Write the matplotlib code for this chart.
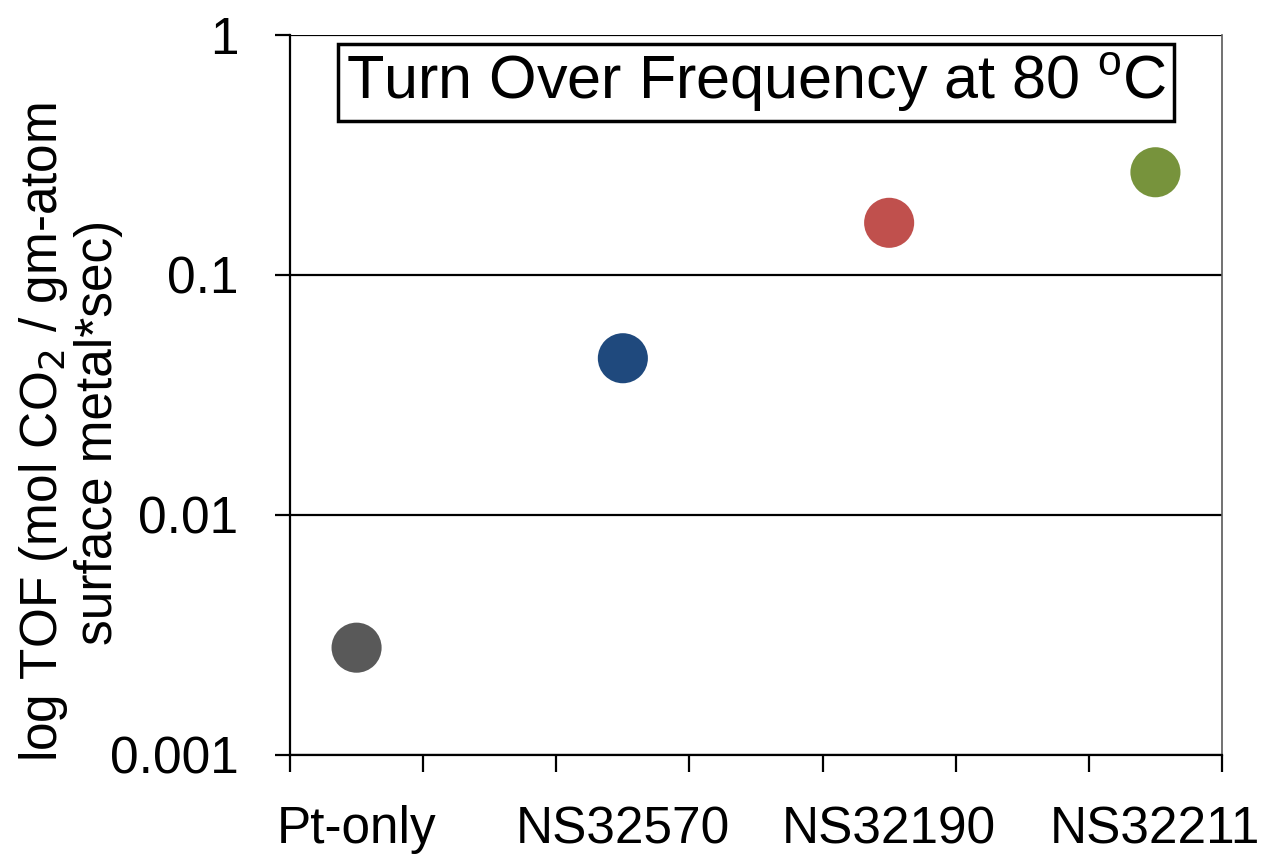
import matplotlib
matplotlib.use("Agg")
import matplotlib.pyplot as plt
from matplotlib.ticker import FixedLocator, NullFormatter, FixedFormatter

plt.rcParams['font.family'] = ['Liberation Sans', 'DejaVu Sans']

# Catalyst samples and their turnover frequencies
catalysts = ["Pt-only", "NS32570", "NS32190", "NS32211"]
tof = [0.0028, 0.045, 0.165, 0.268]
colors = ["#595959", "#1F497D", "#C0504D", "#77933C"]
x_pos = [0.5, 2.5, 4.5, 6.5]

W, H = 1264, 858
fig = plt.figure(figsize=(W / 100, H / 100), dpi=100)
ax = fig.add_axes([290 / W, 103 / H, 932 / W, 720 / H])

ax.scatter(x_pos, tof, s=1300, c=colors, edgecolors='none', zorder=3)

ax.set_yscale('log')
ax.set_ylim(0.001, 1)
ax.set_xlim(0, 7)

# y axis: decades with gridlines
ax.yaxis.set_major_locator(FixedLocator([0.001, 0.01, 0.1, 1]))
ax.yaxis.set_major_formatter(FixedFormatter(["0.001", "0.01", "0.1", "1"]))
ax.yaxis.set_minor_locator(FixedLocator([]))
ax.grid(axis='y', color='black', linewidth=1.6, zorder=1)
ax.tick_params(axis='y', which='major', direction='out', length=11, width=1.6,
               labelsize=37, pad=26)

# x axis: tick marks at category boundaries, labels in between
ax.xaxis.set_major_locator(FixedLocator(range(0, 8)))
ax.xaxis.set_major_formatter(NullFormatter())
ax.xaxis.set_minor_locator(FixedLocator(x_pos))
ax.xaxis.set_minor_formatter(FixedFormatter(catalysts))
ax.tick_params(axis='x', which='major', direction='out', length=12, width=1.6)
ax.tick_params(axis='x', which='minor', length=0, labelsize=37, pad=36)

for side in ['left', 'bottom']:
    ax.spines[side].set_linewidth(1.6)
    ax.spines[side].set_color('black')
ax.spines['right'].set_color('#595959')
ax.spines['right'].set_linewidth(1.2)
ax.spines['top'].set_visible(False)

fig.text(70 / W, 1 - 432 / H,
         "log TOF (mol CO$_2$ / gm-atom\nsurface metal*sec)",
         rotation=90, ha='center', va='center', ma='center',
         fontsize=37, linespacing=1.12)

ax.text(0.5, 0.934, "Turn Over Frequency at 80 $^{\\mathregular{o}}$C",
        transform=ax.transAxes, ha='center', va='center', fontsize=44,
        bbox=dict(boxstyle='square,pad=0.12', facecolor='white',
                  edgecolor='black', linewidth=2.5), zorder=4)

fig.savefig("out.png", dpi=100)
